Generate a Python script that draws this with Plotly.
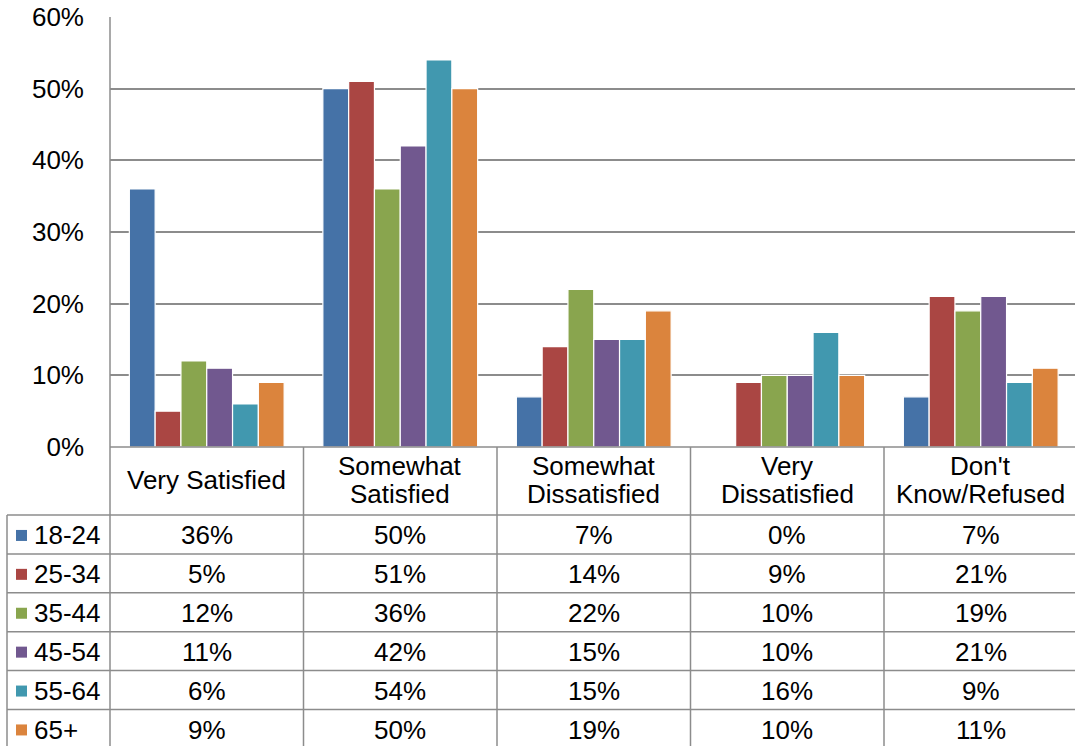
import plotly.graph_objects as go

categories = ["Very Satisfied", "Somewhat Satisfied", "Somewhat Dissatisfied", "Very Dissatisfied", "Don't Know/Refused"]
cat_labels = ["Very Satisfied", "Somewhat<br>Satisfied", "Somewhat<br>Dissatisfied", "Very<br>Dissatisfied", "Don't<br>Know/Refused"]
series_names = ["18-24", "25-34", "35-44", "45-54", "55-64", "65+"]
v_18_24 = [36, 50, 7, 0, 7]
v_25_34 = [5, 51, 14, 9, 21]
v_35_44 = [12, 36, 22, 10, 19]
v_45_54 = [11, 42, 15, 10, 21]
v_55_64 = [6, 54, 15, 16, 9]
v_65 = [9, 50, 19, 10, 11]
series_values = [v_18_24, v_25_34, v_35_44, v_45_54, v_55_64, v_65]
colors = ["#4572A7", "#AA4643", "#89A54E", "#71588F", "#4198AF", "#DB843D"]
y_ticks = [0, 10, 20, 30, 40, 50, 60]

W, H = 1075, 746
L, R, T, B = 110, 0, 17, 299
PH = H - T - B  # plot height in px
PW = W - L - R
CAT_PX = 193.5  # category width in px
FONT = "Liberation Sans, Arial, sans-serif"
FS = 26
GRID = "#8c8c8c"

def py(ypix):
    return (H - B - ypix) / PH

def px(xpix):
    return (xpix - L) / PW

fig = go.Figure()
for name, vals, c in zip(series_names, series_values, colors):
    fig.add_trace(go.Bar(
        x=list(range(len(categories))), y=[v / 100 for v in vals], name=name,
        marker=dict(color=c, line=dict(color="white", width=1.2)),
        showlegend=False,
    ))

shapes = []
line = dict(color=GRID, width=1.5)
row_top = 515
row_h = 38.9
for i in range(7):
    yy = row_top + i * row_h
    shapes.append(dict(type="line", xref="paper", yref="paper", x0=px(7), x1=1.0, y0=py(yy), y1=py(yy), line=line))
shapes.append(dict(type="line", xref="paper", yref="paper", x0=0, x1=1.0, y0=0, y1=0, line=line))
shapes.append(dict(type="line", xref="paper", yref="paper", x0=0, x1=0, y0=1, y1=py(H + 5), line=line))
shapes.append(dict(type="line", xref="paper", yref="paper", x0=px(7), x1=px(7), y0=py(row_top), y1=py(H + 5), line=line))
for k in range(1, len(categories)):
    shapes.append(dict(type="line", xref="x", yref="paper", x0=k - 0.5, x1=k - 0.5, y0=0, y1=py(H + 5), line=line))

annotations = []
tf = dict(family=FONT, size=FS, color="#000")
for i, lab in enumerate(cat_labels):
    parts = lab.split("<br>")
    ys = [480] if len(parts) == 1 else [466, 494]
    for part, yy in zip(parts, ys):
        annotations.append(dict(x=i, y=py(yy), xref="x", yref="paper", text=part, showarrow=False,
                                font=tf, xanchor="center", yanchor="middle"))
for r, (name, vals, c) in enumerate(zip(series_names, series_values, colors)):
    yc = row_top + (r + 0.5) * row_h + 1
    shapes.append(dict(type="rect", xref="paper", yref="paper", x0=px(16), x1=px(27), y0=py(yc + 5.5), y1=py(yc - 5.5),
                       fillcolor=c, line=dict(width=0)))
    annotations.append(dict(x=px(32), y=py(yc), xref="paper", yref="paper", text=name, showarrow=False,
                            font=tf, xanchor="left", yanchor="middle"))
    for i, v in enumerate(vals):
        annotations.append(dict(x=i, y=py(yc), xref="x", yref="paper", text=f"{v}%", showarrow=False,
                                font=tf, xanchor="center", yanchor="middle"))

fig.update_layout(
    width=W, height=H,
    margin=dict(l=L, r=R, t=T, b=B),
    paper_bgcolor="white", plot_bgcolor="white",
    barmode="group", bargap=0.2, bargroupgap=0,
    shapes=shapes, annotations=annotations,
    xaxis=dict(range=[-0.5, -0.5 + PW / CAT_PX], showticklabels=False, showgrid=False, zeroline=False,
               showline=False, ticks=""),
    yaxis=dict(range=[0, 0.6], tickvals=[t / 100 for t in y_ticks], ticktext=[f"{t}%" for t in y_ticks],
               showgrid=True, gridcolor=GRID, gridwidth=1.5, zeroline=False, showline=False,
               tickfont=tf, ticklabelstandoff=25),
)
fig.write_html("out.html", config={"displayModeBar": False},
               post_script="document.body.style.margin='0';document.body.style.overflow='hidden';")
